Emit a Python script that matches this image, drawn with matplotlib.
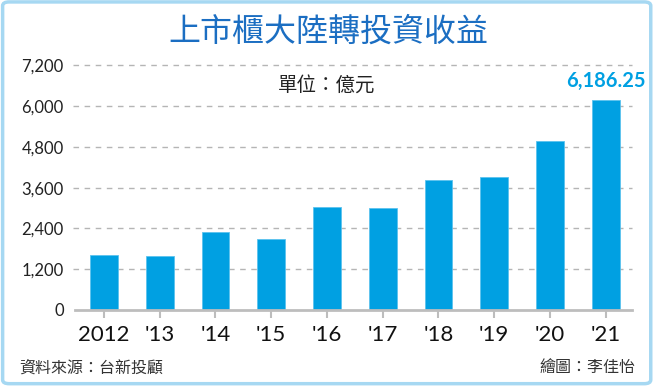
import matplotlib
matplotlib.use('Agg')
import matplotlib.pyplot as plt
from matplotlib.patches import FancyBboxPatch

plt.rcParams['font.family'] = ['Lato', 'Noto Sans CJK TC', 'DejaVu Sans']

# 資料
years = ['2012', "'13", "'14", "'15", "'16", "'17", "'18", "'19", "'20", "'21"]
values = [1627, 1580, 2286, 2089, 3040, 3001, 3815, 3922, 4981, 6186.25]
yticks = [0, 1200, 2400, 3600, 4800, 6000, 7200]
title = '上市櫃大陸轉投資收益'
unit = '單位：億元'
source = '資料來源：台新投顧'
credit = '繪圖：李佳怡'

bar_color = '#00a0e2'
title_color = '#1b6ec2'

fig = plt.figure(figsize=(6.56, 3.86), dpi=100)
ax = fig.add_axes([0.1143, 0.1969, 0.849, 0.6427])

x = range(len(years))
ax.bar(x, values, width=0.5, color=bar_color, edgecolor='#5cc3ee', linewidth=0.6, zorder=3)

ax.set_xlim(-0.52, len(years) - 0.53)
ax.set_ylim(0, 7300)
ax.set_yticks(yticks)
ax.set_yticklabels(['{:,}'.format(v) for v in yticks])
ax.set_xticks(list(x))
ax.set_xticklabels(years)

for v in yticks[1:]:
    ax.axhline(v, xmin=-0.003, color='#b5b5b5', linestyle=(0, (4, 4)), linewidth=1.0,
               zorder=1, clip_on=False)

for s in ['top', 'right', 'left']:
    ax.spines[s].set_visible(False)
ax.spines['bottom'].set_color('#bdbdbd')
ax.spines['bottom'].set_linewidth(2)
ax.spines['bottom'].set_zorder(4)

ax.tick_params(axis='y', length=0, pad=8, labelsize=12, labelcolor='#222222')
ax.tick_params(axis='x', length=6, width=1.5, color='#bdbdbd', pad=5,
               labelsize=16, labelcolor='#111111')

# 最新值標註
ax.text(len(values) - 1, values[-1] + 260, '{:,.2f}'.format(values[-1]),
        ha='center', va='bottom', fontsize=14.5, fontweight='bold', color=bar_color)

fig.text(0.5, 0.917, title, ha='center', va='center', fontsize=23,
         fontweight='medium', color=title_color, family=['Noto Sans CJK TC'])
fig.text(0.498, 0.78, unit, ha='center', va='center', fontsize=14,
         color='#222222', family=['Noto Sans CJK TC'])
fig.text(0.029, 0.047, source, ha='left', va='center', fontsize=11.5,
         color='#333333', family=['Noto Sans CJK TC'])
fig.text(0.968, 0.047, credit, ha='right', va='center', fontsize=11.5,
         color='#333333', family=['Noto Sans CJK TC'])

# 外框
frame = FancyBboxPatch((0.004, 0.006), 0.988, 0.989, boxstyle='round,pad=0,rounding_size=0.01',
                       transform=fig.transFigure, fill=False, edgecolor='#a6d8f2', linewidth=2.5)
fig.patches.append(frame)

fig.savefig('out.png', dpi=100)
